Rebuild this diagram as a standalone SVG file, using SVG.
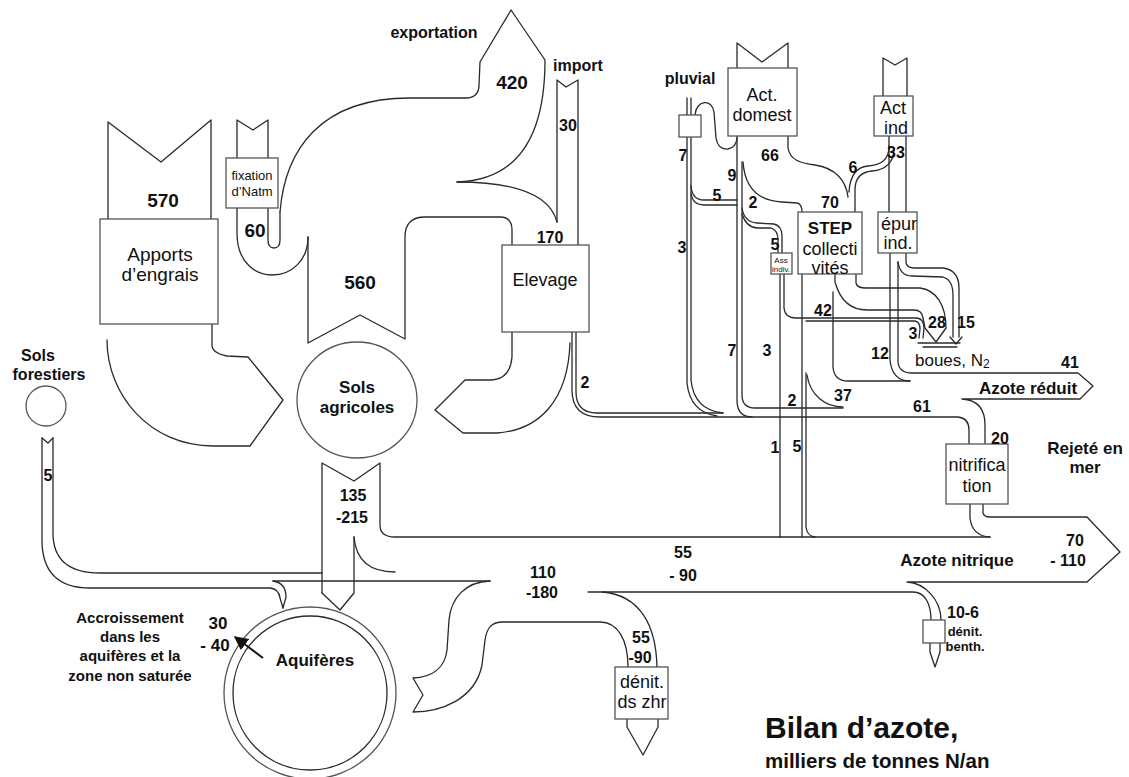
<svg xmlns="http://www.w3.org/2000/svg" width="1129" height="777" viewBox="0 0 1129 777">
<style>
.l{fill:none;stroke:#2a2a2a;stroke-width:1.3;stroke-linejoin:round;stroke-linecap:round}
.b{fill:#fff;stroke:#555;stroke-width:1.3}
.t{font-family:"Liberation Sans",Arial,sans-serif;fill:#111;text-anchor:middle}
.n{font-weight:bold;font-size:16px}
.N{font-weight:bold;font-size:19px}
.r{font-size:18px}
.w{font-weight:bold;font-size:16px}
</style>
<defs>
<marker id="ah" viewBox="0 0 10 10" refX="9" refY="5" markerWidth="7" markerHeight="7" orient="auto"><path d="M0,0 L10,5 L0,10 Z" fill="#111"/></marker>
</defs>
<rect width="1129" height="777" fill="#fff"/>
<g id="connectors">
<path class="l" d="M108,219 L108,122 L161,162 L211,120 L211,219"/>
<path class="l" d="M107,340 C107,395 150,446 213,446 L250,446 L283,400 L248,357 L227,356 Q212,353 212,345 L212,324"/>
<path class="l" d="M237,160 L237,120 L253,130 L268,120 L268,160"/>
<path class="l" d="M237,208 L237,233 C237,265 258,275 272,275 C292,275 308,260 308,237"/>
<path class="l" d="M268,208 L268,240 Q268,248 274,248 Q280,248 280,240 L280,212"/>
<path class="l" d="M280,212 C285,150 320,98 410,98 L467,98 Q479,97 479,85 L480,62 L511,10 L545,60 C545,125 525,180 457,182"/>
<path class="l" d="M457,182 C515,182 550,195 557,222"/>
<path class="l" d="M557,222 L557,80 L566,87 L578,80 L578,245"/>
<path class="l" d="M308,237 L308,343 L360,315 L405,339 L405,237 Q405,217 425,217 L500,217 Q512,217 512,230 L512,245"/>
<path class="l" d="M512,332 L512,357 Q510,380 490,380 L465,380 L435,410 L463,433 L497,433 C540,430 568,400 570,343"/>
<path class="l" d="M572,332 L572,390 Q572,417 600,417 L958,417 Q969,418 969,430 L969,444"/>
<path class="l" d="M576,332 L576,392 Q576,413 597,413 L723,413"/>
<path class="l" d="M322,593 L322,463 L354,481 L380,463 L380,525 Q380,537 395,537 L990,537"/>
<path class="l" d="M354,537 L354,593 L340,610 L322,593"/>
<path class="l" d="M354,537 C356,560 370,572 395,572"/>
<path class="l" d="M42,438 L48,443 L53,438"/>
<path class="l" d="M42,438 L42,540 Q42,588 90,588 L270,588 Q279,589 280,598 L283,608"/>
<path class="l" d="M53,438 L53,533 Q53,573 100,573 L322,573"/>
<path class="l" d="M273,581 Q286,583 286,597 L283,608"/>
<path class="l" d="M273,581 L490,581"/>
<path class="l" d="M490,581 C465,582 451,598 449,620 L447,650 C445,668 432,677 413,678 L423,695 L413,712 C440,712 475,700 482,665 L485,640 C487,627 492,622 503,622 L600,622 C618,622 628,640 628,667"/>
<path class="l" d="M588,592 L913,592 C925,592 931,604 931,620"/>
<path class="l" d="M602,592 C640,595 656,625 657,667"/>
<path class="l" d="M627,719 L627,727 L643,755 L658,727 L658,719"/>
<path class="l" d="M970,504 L970,518 Q972,536 990,537"/>
<path class="l" d="M983,504 L983,513 Q984,517 990,517 L1087,517 L1120,552 L1087,582 L907,582 C925,583 941,600 941,620"/>
<path class="l" d="M930,643 L930,652 L935,667 L940,652 L940,643"/>
<path class="l" d="M687,98 L687,383 Q690,412 717,416"/>
<path class="l" d="M691,98 L691,380 Q694,410 723,413"/>
<path class="l" d="M691,186 Q692,200 704,200 L737,200"/>
<path class="l" d="M691,194 Q693,205 704,205 L737,205"/>
<path class="l" d="M695,115 C696,100 712,98 714,112 L716,138 Q718,150 728,149 Q736,148 737,138"/>
<path class="l" d="M737,68 L737,43 L762,62 L788,43 L788,68"/>
<path class="l" d="M737,136 L737,400 Q737,417 752,417"/>
<path class="l" d="M742,162 L742,395 Q742,408 755,408 L843,408"/>
<path class="l" d="M743,162 C745,190 760,201 782,202 L797,203 Q802,204 802,212"/>
<path class="l" d="M788,136 L788,148 C790,160 800,163 815,165 C835,168 846,180 848,197"/>
<path class="l" d="M742,208 Q744,222 757,223 L774,224 Q782,226 782,236 L782,253"/>
<path class="l" d="M742,214 Q746,227 757,228 L771,228 Q778,230 778,240 L778,253"/>
<path class="l" d="M780,274 L780,537"/>
<path class="l" d="M784,274 L784,308 Q785,318 796,318 L917,318 Q924,319 924,328 L923,338"/>
<path class="l" d="M806,321 L915,321 Q920,322 920,329 L919,338"/>
<path class="l" d="M802,274 L802,537"/>
<path class="l" d="M806,373 L806,527 Q807,536 815,537"/>
<path class="l" d="M807,375 C810,395 825,407 843,407"/>
<path class="l" d="M856,274 L856,283 Q857,288 866,288 L920,288 C936,290 946,305 946,328 L936,342 L925,328 L923,318 Q922,310 914,310 L867,310 C850,310 840,300 835,282 L835,274"/>
<path class="l" d="M833,292 L833,367 Q834,381 848,381 L910,381"/>
<path class="l" d="M883,96 L883,58 L895,65 L907,58 L907,96"/>
<path class="l" d="M889,136 L889,212 M906,136 L906,212"/>
<path class="l" d="M889,146 C889,161 880,165 868,166 C856,167 850,176 849,192"/>
<path class="l" d="M894,150 C893,165 884,170 872,171 C861,172 855,178 855,190 L855,212"/>
<path class="l" d="M906,253 L906,262 Q906,268 915,268 L943,268 Q959,270 959,288 L959,337"/>
<path class="l" d="M898,262 Q900,276 912,276 L943,277 Q953,280 953,295 L953,337"/>
<path class="l" d="M950,337 L956,344 L962,337"/>
<path class="l" d="M890,253 L890,360 Q892,381 910,381"/>
<path class="l" d="M898,262 L898,362 Q899,373 912,373 L1078,373 L1093,386 L1080,399 L962,399 C978,400 985,410 985,425 L985,444"/>
<path class="l" d="M918,343 L960,343 M923,347 L957,347"/>
</g>
<g id="apports"><rect class="b" x="100" y="219" width="118" height="105"/><text class="t" x="160" y="261" style="font-size:19px">Apports</text><text class="t" x="160" y="281" style="font-size:19px">d’engrais</text></g>
<g id="fixation"><rect class="b" x="226" y="158" width="52" height="50"/><text class="t" x="252" y="180" style="font-size:13px">fixation</text><text class="t" x="252" y="196" style="font-size:13px">d’Natm</text></g>
<g id="sols-agricoles"><ellipse class="b" cx="357" cy="400" rx="60" ry="58"/><text class="t" x="357" y="393" style="font-weight:bold;font-size:17px">Sols</text><text class="t" x="357" y="413" style="font-weight:bold;font-size:17px">agricoles</text></g>
<g id="elevage"><rect class="b" x="502" y="245" width="87" height="87"/><text class="t r" x="545" y="286">Elevage</text></g>
<g id="pluvial"><rect class="b" x="679" y="115" width="22" height="22"/></g>
<g id="act-domest"><rect class="b" x="728" y="68" width="69" height="68"/><text class="t r" x="762" y="101">Act.</text><text class="t r" x="762" y="121">domest</text></g>
<g id="act-ind"><rect class="b" x="874" y="96" width="39" height="40"/><text class="t r" x="893" y="114">Act</text><text class="t r" x="896" y="134">ind</text></g>
<g id="step"><rect class="b" x="798" y="212" width="64" height="62"/><text class="t" x="830" y="234" style="font-weight:bold;font-size:17px">STEP</text><text class="t r" x="830" y="255">collecti</text><text class="t r" x="830" y="274">vités</text></g>
<g id="epur-ind"><rect class="b" x="878" y="212" width="39" height="41"/><text class="t r" x="899" y="230">épur</text><text class="t r" x="898" y="249">ind.</text></g>
<g id="ass-indiv"><rect class="b" x="771" y="253" width="21" height="21"/><text class="t" x="781" y="263" style="font-size:8px">Ass</text><text class="t" x="781" y="272" style="font-size:8px">indiv.</text></g>
<g id="nitrification"><rect class="b" x="946" y="444" width="62" height="60"/><text class="t r" x="977" y="471">nitrifica</text><text class="t r" x="977" y="492">tion</text></g>
<g id="sols-forestiers"><circle class="b" cx="46" cy="406" r="20"/><text class="t w" x="38" y="361">Sols</text><text class="t w" x="49" y="380">forestiers</text></g>
<g id="aquiferes"><circle class="b" cx="310" cy="693" r="86"/><circle class="l" cx="310" cy="693" r="77"/><text class="t" x="315" y="666" style="font-weight:bold;font-size:17px">Aquifères</text><path d="M263,658 L235,637" stroke="#111" stroke-width="2" marker-end="url(#ah)"/></g>
<g id="denit-zhr"><rect class="b" x="615" y="667" width="53" height="52"/><text class="t r" x="642" y="688">dénit.</text><text class="t r" x="642" y="708">ds zhr</text></g>
<g id="denit-benth"><rect class="b" x="923" y="620" width="22" height="23"/></g>
<g id="labels">
<text class="t w" x="434" y="38">exportation</text>
<text class="t N" x="512" y="89">420</text>
<text class="t w" x="578" y="71">import</text>
<text class="t n" x="568" y="131">30</text>
<text class="t N" x="163" y="207">570</text>
<text class="t N" x="255" y="237">60</text>
<text class="t N" x="360" y="289">560</text>
<text class="t n" x="550" y="243">170</text>
<text class="t n" x="585" y="388">2</text>
<text class="t w" x="690" y="84">pluvial</text>
<text class="t n" x="683" y="161">7</text>
<text class="t n" x="770" y="161">66</text>
<text class="t n" x="896" y="158">33</text>
<text class="t n" x="853" y="173">6</text>
<text class="t n" x="732" y="181">9</text>
<text class="t n" x="717" y="201">5</text>
<text class="t n" x="753" y="208">2</text>
<text class="t n" x="830" y="208">70</text>
<text class="t n" x="682" y="253">3</text>
<text class="t n" x="775" y="250">5</text>
<text class="t n" x="823" y="316">42</text>
<text class="t n" x="937" y="328">28</text>
<text class="t n" x="966" y="328">15</text>
<text class="t n" x="913" y="339">3</text>
<text class="t n" x="880" y="359">12</text>
<text class="t n" x="732" y="356">7</text>
<text class="t n" x="767" y="356">3</text>
<text class="t" x="915" y="366" style="text-anchor:start;font-size:17px">boues, N<tspan font-size="12" dy="2">2</tspan></text>
<text class="t n" x="1070" y="368">41</text>
<text class="t" x="1028" y="394" style="font-weight:bold;font-size:17px">Azote réduit</text>
<text class="t n" x="843" y="401">37</text>
<text class="t n" x="792" y="406">2</text>
<text class="t n" x="922" y="412">61</text>
<text class="t n" x="775" y="453">1</text>
<text class="t n" x="797" y="452">5</text>
<text class="t n" x="1000" y="444">20</text>
<text class="t" x="1085" y="454" style="font-weight:bold;font-size:17px">Rejeté en</text>
<text class="t" x="1085" y="473" style="font-weight:bold;font-size:17px">mer</text>
<text class="t n" x="1075" y="546">70</text>
<text class="t n" x="1068" y="566">- 110</text>
<text class="t" x="957" y="566" style="font-weight:bold;font-size:17px">Azote nitrique</text>
<text class="t n" x="683" y="558">55</text>
<text class="t n" x="683" y="581">- 90</text>
<text class="t n" x="353" y="501">135</text>
<text class="t n" x="352" y="523">-215</text>
<text class="t n" x="543" y="578">110</text>
<text class="t n" x="542" y="598">-180</text>
<text class="t n" x="641" y="643">55</text>
<text class="t n" x="640" y="663">-90</text>
<text class="t n" x="963" y="618">10-6</text>
<text class="t" x="965" y="636" style="font-weight:bold;font-size:13px">dénit.</text>
<text class="t" x="965" y="651" style="font-weight:bold;font-size:13px">benth.</text>
<text class="t n" x="48" y="481">5</text>
<text class="t" x="218" y="629" style="font-weight:bold;font-size:17px">30</text>
<text class="t" x="215" y="651" style="font-weight:bold;font-size:17px">- 40</text>
<text class="t" x="130" y="623" style="font-weight:bold;font-size:15px">Accroissement</text>
<text class="t" x="130" y="642" style="font-weight:bold;font-size:15px">dans les</text>
<text class="t" x="130" y="661" style="font-weight:bold;font-size:15px">aquifères et la</text>
<text class="t" x="130" y="681" style="font-weight:bold;font-size:15px">zone non saturée</text>
</g>
<g id="title">
<text class="t" x="765" y="738" style="text-anchor:start;font-weight:bold;font-size:30px">Bilan d’azote,</text>
<text class="t" x="765" y="768" style="text-anchor:start;font-weight:bold;font-size:20.5px">milliers de tonnes N/an</text>
</g>
</svg>
